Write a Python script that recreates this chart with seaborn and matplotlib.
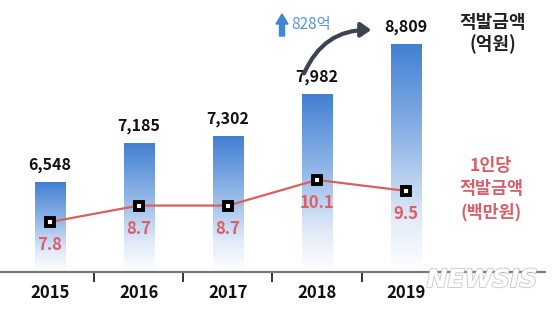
import numpy as np
import pandas as pd
import matplotlib
matplotlib.use("Agg")
import matplotlib.pyplot as plt
import matplotlib.patheffects as pe
from matplotlib.colors import LinearSegmentedColormap
import seaborn as sns

years = ["2015", "2016", "2017", "2018", "2019"]
amount = [6548, 7185, 7302, 7982, 8809]          # 적발금액 (억원)
amount_labels = ["6,548", "7,185", "7,302", "7,982", "8,809"]
per_person = [7.8, 8.7, 8.7, 10.1, 9.5]          # 1인당 적발금액 (백만원)
increase_label = "828억"

sns.set_theme(style="white")
plt.rcParams["font.family"] = ["Noto Sans CJK KR", "DejaVu Sans"]

W, H = 553, 311
fig = plt.figure(figsize=(W / 100, H / 100), dpi=100)
ax = fig.add_axes([0, 39 / H, 1, 272 / H])

df = pd.DataFrame({"year": years, "amount": amount})
sns.barplot(data=df, x="year", y="amount", ax=ax, color="#4a86d4", width=0.34,
            saturation=1)

ax.set_ylim(5074, 9530)
ax.set_xlim(-0.56, 5.65)

# gradient fill for bars
cmap = LinearSegmentedColormap.from_list(
    "bg", [(0, "#ffffff"), (0.22, "#e3ecf9"), (0.6, "#8db4e6"), (1, "#4280d2")])
grad = np.linspace(0, 1, 256).reshape(-1, 1)
for p in ax.patches:
    x0, y0 = p.get_x(), p.get_y()
    w, h = p.get_width(), p.get_height()
    p.set_facecolor("none")
    p.set_edgecolor("none")
    im = ax.imshow(grad, cmap=cmap, aspect="auto", origin="lower",
                   extent=[x0, x0 + w, ax.get_ylim()[0], y0 + h], zorder=1)
    im.set_clip_path(p)
ax.set_xlim(-0.56, 5.65)
ax.set_ylim(5074, 9530)

for i, (v, lab) in enumerate(zip(amount, amount_labels)):
    ax.annotate(lab, (i, v), xytext=(0, 9), textcoords="offset pixels",
                ha="center", va="bottom", fontsize=11.5, fontweight="bold",
                color="#111111")

# axes styling
for s in ax.spines.values():
    s.set_visible(False)
ax.axhline(5074, xmin=0, xmax=0.985, color="#7a7a7a", lw=1.6, zorder=3,
           clip_on=False)
ax.set_xlabel("")
ax.set_ylabel("")
ax.set_yticks([])
ax.set_xticks(range(len(years)))
ax.set_xticklabels(years, fontsize=12, fontweight="bold", color="#111111")
ax.tick_params(axis="x", which="major", length=0, pad=9)
ax.set_xticks([i + 0.5 for i in range(len(years) - 1)], minor=True)
ax.tick_params(axis="x", which="minor", length=7, width=1.4, color="#333333",
               direction="out", bottom=True)

# per-person line on twin axis
ax2 = ax.twinx()
sns.lineplot(x=np.arange(len(years)), y=per_person, ax=ax2, color="#d9605f",
             lw=1.6, marker="s", markersize=5.5, markerfacecolor="white",
             markeredgecolor="black", markeredgewidth=2.8, zorder=5)
ax2.set_ylim(5.07, 19.93)
ax2.set_yticks([])
for s in ax2.spines.values():
    s.set_visible(False)
for i, v in enumerate(per_person):
    ax2.annotate(f"{v}", (i, v), xytext=(0, -23), textcoords="offset pixels",
                 ha="center", va="center", fontsize=12, fontweight="bold",
                 color="#d9606a")

# right-side titles
fig.text(493 / W, 1 - 22 / H, "적발금액", ha="center", va="center",
         fontsize=13, fontweight="bold", color="#222222")
fig.text(493 / W, 1 - 44 / H, "(억원)", ha="center", va="center",
         fontsize=13, fontweight="bold", color="#222222")
fig.text(491 / W, 1 - 166 / H, "1인당", ha="center", va="center",
         fontsize=12.5, fontweight="bold", color="#d9606a")
fig.text(491 / W, 1 - 189 / H, "적발금액", ha="center", va="center",
         fontsize=12.5, fontweight="bold", color="#d9606a")
fig.text(491 / W, 1 - 212 / H, "(백만원)", ha="center", va="center",
         fontsize=12.5, fontweight="bold", color="#d9606a")

# increase annotation
fig.patches.append(matplotlib.patches.FancyArrow(
    282 / W, 1 - 36 / H, 0, 22 / H, width=5 / W, head_width=12 / W,
    head_length=10 / H, length_includes_head=True, color="#3f86d6",
    transform=fig.transFigure, figure=fig))
fig.text(291 / W, 1 - 25 / H, increase_label, ha="left", va="center",
         fontsize=11, color="#5b93d8")

ax.annotate("", xy=(374, H - 30), xycoords="figure pixels",
            xytext=(303, H - 76), textcoords="figure pixels",
            arrowprops=dict(arrowstyle="-|>,head_length=0.5,head_width=0.35",
                            connectionstyle="arc3,rad=-0.35", color="#3c4352",
                            lw=3))

# watermark
fig.text(482 / W, 1 - 280 / H, "NEWSIS", ha="center", va="center",
         fontsize=18, fontweight="bold", style="italic", color="white",
         family="DejaVu Sans",
         path_effects=[pe.withStroke(linewidth=1.2, foreground="#c8c8c8")])

fig.savefig("out.png", dpi=100)
